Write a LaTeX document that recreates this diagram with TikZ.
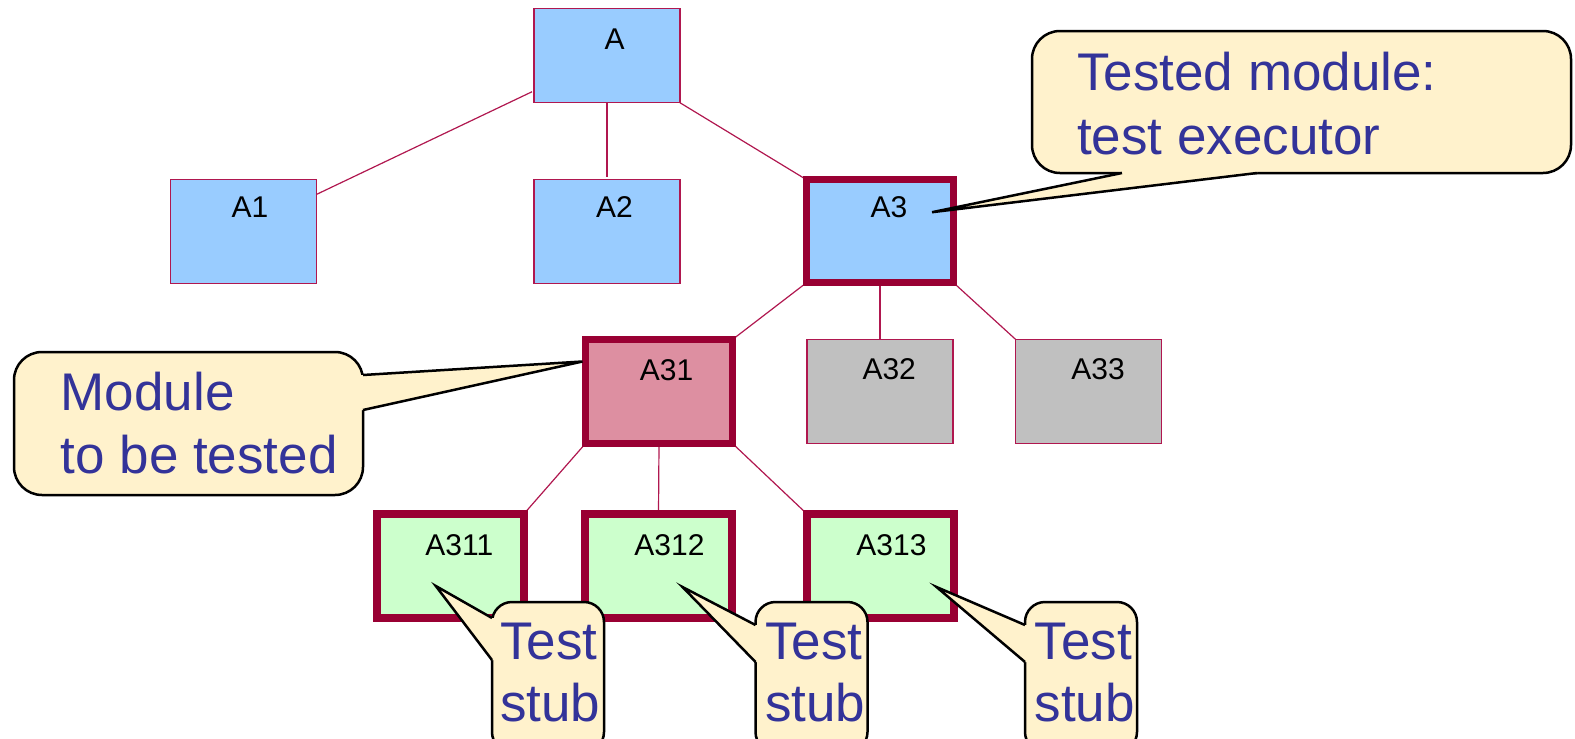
\documentclass[tikz,border=0pt]{standalone}
\usepackage{fontspec}
\setmainfont{Liberation Sans}
\usetikzlibrary{calc,backgrounds}
\definecolor{thinc}{HTML}{B0174F}
\definecolor{thickc}{HTML}{990033}
\definecolor{bluec}{HTML}{99CCFF}
\definecolor{pinkc}{HTML}{DD8FA1}
\definecolor{grayc}{HTML}{C0C0C0}
\definecolor{greenc}{HTML}{CCFFCC}
\definecolor{cfill}{HTML}{FFF2CC}
\definecolor{ctxt}{HTML}{333399}
\newcommand\myptr[4]{%
  \fill[cfill] ($(#1)+(#3)$) -- (#1) -- (#4) -- (#2) -- ($(#2)+(#3)$) -- cycle;
  \draw[cline] (#1) -- (#4) -- (#2);
}
\begin{document}
\begin{tikzpicture}[x=1pt,y=-1pt,
  box/.style={draw=thinc, line width=1.2pt, minimum width=146pt, minimum height=104pt, inner sep=0pt, outer sep=0pt},
  thickbox/.style={draw=thickc, line width=7.5pt, minimum width=147pt, minimum height=104pt, inner sep=0pt, outer sep=0pt},
  lbl/.style={font=\fontsize{30}{35}\selectfont, inner sep=0pt},
  conn/.style={draw=thinc, line width=1.2pt},
  callout/.style={draw=black, line width=2.5pt, fill=cfill, rounded corners=28pt, inner sep=0pt, outer sep=0pt},
  cline/.style={draw=black, line width=2.5pt},
  ctext/.style={text=ctxt, align=left, inner sep=0pt, anchor=west}]
\useasboundingbox (0,0) rectangle (1575,739);

% boxes
\node[box, fill=bluec, minimum height=94.5pt] (A) at (607,55.5) {};
\node[box, fill=bluec] (A1) at (243.3,231.5) {};
\node[box, fill=bluec] (A2) at (607,231.5) {};
\node[thickbox, fill=bluec, minimum height=103pt] (A3) at (880,231.2) {};
\node[thickbox, fill=pinkc] (A31) at (659,391.5) {};
\node[box, fill=grayc] (A32) at (880,391.3) {};
\node[box, fill=grayc] (A33) at (1088.5,391.3) {};
\node[thickbox, fill=greenc] (A311) at (450.3,566) {};
\node[thickbox, fill=greenc] (A312) at (658.5,566) {};
\node[thickbox, fill=greenc] (A313) at (880.5,566) {};

% labels
\node[lbl] (A-l) at ($(A.north)+(7.5,31)$) {A};
\node[lbl] (A1-l) at ($(A1.north)+(6.7,28)$) {A1};
\node[lbl] (A2-l) at ($(A2.north)+(7.5,28)$) {A2};
\node[lbl] (A3-l) at ($(A3.north)+(9,27.5)$) {A3};
\node[lbl] (A31-l) at ($(A31.north)+(7.5,30.5)$) {A31};
\node[lbl] (A32-l) at ($(A32.north)+(9.2,30.2)$) {A32};
\node[lbl] (A33-l) at ($(A33.north)+(9.5,30.2)$) {A33};
\node[lbl] (A311-l) at ($(A311.north)+(9,30.7)$) {A311};
\node[lbl] (A312-l) at ($(A312.north)+(11,30.7)$) {A312};
\node[lbl] (A313-l) at ($(A313.north)+(11,30.7)$) {A313};

% connectors
\begin{scope}[on background layer]
\draw[conn] ($(A.south west)+(-2,-11)$) -- ($(A1.north east)+(0,15)$);
\draw[conn] (A.south) -- ($(A2.north)+(0,-3)$);
\draw[conn] (A.south east) -- (A3.north west);
\draw[conn] (A3.south west) -- (A31.north east);
\draw[conn] (A3.south -| A32.north) -- (A32.north);
\draw[conn] (A3.south east) -- (A33.north west);
\draw[conn] (A31.south west) -- (A311.north east);
\draw[conn] (A31.south) -- (A312.north);
\draw[conn] (A31.south east) -- (A313.north west);
\end{scope}

% callout 1
\node[callout, minimum width=539pt, minimum height=142pt] (c1) at (1301.5,102) {};
\node[ctext, font=\fontsize{53}{64}\selectfont] (c1t) at ($(c1.west)+(45,2)$) {Tested module:\\test executor};
\coordinate (c1b1) at ($(c1.south west)+(90,0)$);
\coordinate (c1b2) at ($(c1.south west)+(225,0)$);
\coordinate (t1) at ($(A3.center)+(52,-19)$);
\myptr{c1b1}{c1b2}{0,-4}{t1}

% callout 2
\node[callout, minimum width=349pt, minimum height=143pt] (c2) at (188.5,423.5) {};
\node[ctext, font=\fontsize{53}{63}\selectfont] (c2t) at ($(c2.west)+(46.5,-0.5)$) {Module\\to be tested};
\coordinate (c2b1) at ($(c2.north east)+(0,23)$);
\coordinate (c2b2) at ($(c2.north east)+(0,58)$);
\coordinate (t2) at ($(A31.north west)+(-3,22)$);
\myptr{c2b1}{c2b2}{-4,0}{t2}

% stubs
\node[callout, rounded corners=20pt, minimum width=112pt, minimum height=150pt] (s1) at (548,677) {};
\node[ctext, font=\fontsize{53}{62}\selectfont] (s1t) at ($(s1.west)+(8,-4.5)$) {Test\\stub};
\coordinate (s1b1) at ($(s1.north west)+(0,16)$);
\coordinate (s1b2) at ($(s1.north west)+(0,58)$);
\coordinate (t3) at ($(A311.center)+(-14.5,20)$);
\myptr{s1b1}{s1b2}{4,0}{t3}

\node[callout, rounded corners=20pt, minimum width=112pt, minimum height=150pt] (s2) at (811.5,677) {};
\node[ctext, font=\fontsize{53}{62}\selectfont] (s2t) at ($(s2.west)+(9.5,-4.5)$) {Test\\stub};
\coordinate (s2b1) at ($(s2.north west)+(0,23)$);
\coordinate (s2b2) at ($(s2.north west)+(0,60)$);
\coordinate (t4) at ($(A312.center)+(24,21)$);
\myptr{s2b1}{s2b2}{4,0}{t4}

\node[callout, rounded corners=20pt, minimum width=112pt, minimum height=150pt] (s3) at (1081,677) {};
\node[ctext, font=\fontsize{53}{62}\selectfont] (s3t) at ($(s3.west)+(9.5,-4.5)$) {Test\\stub};
\coordinate (s3b1) at ($(s3.north west)+(0,23)$);
\coordinate (s3b2) at ($(s3.north west)+(0,60)$);
\coordinate (t5) at ($(A313.center)+(56,21)$);
\myptr{s3b1}{s3b2}{4,0}{t5}
\end{tikzpicture}
\end{document}
